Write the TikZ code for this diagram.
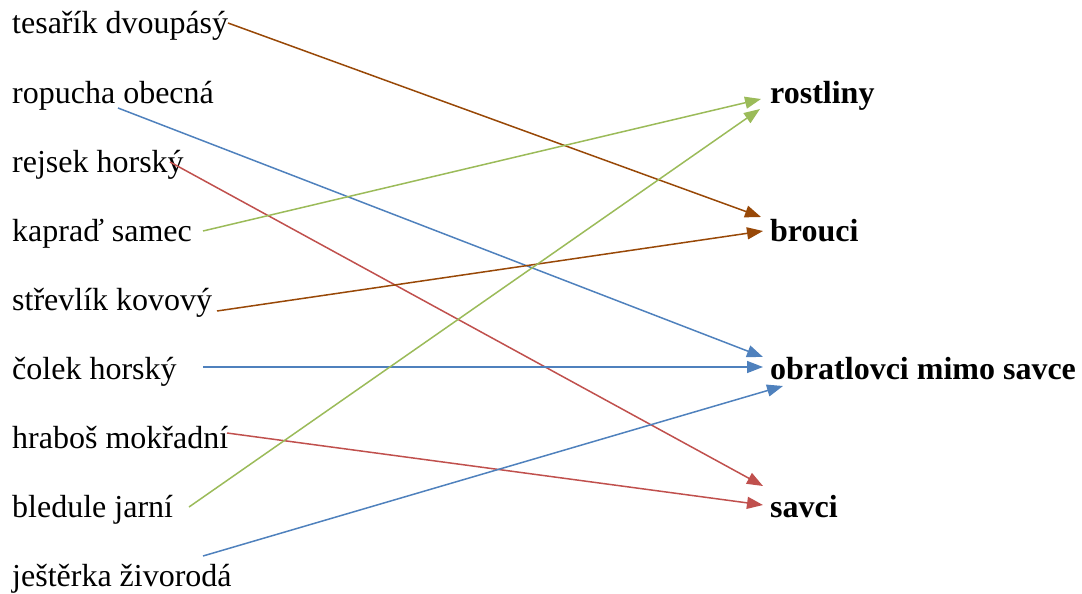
\documentclass[tikz,border=0pt]{standalone}
\usepackage{fontspec}
\setmainfont{Liberation Serif}
\usetikzlibrary{arrows.meta}

\definecolor{hneda}{HTML}{984807}
\definecolor{modra}{HTML}{4F81BD}
\definecolor{cervena}{HTML}{C0504D}
\definecolor{zelena}{HTML}{9BBB59}

\tikzset{
  druh/.style={anchor=base west,inner sep=0pt,font=\fontsize{32}{38}\selectfont},
  skupina/.style={druh,font=\fontsize{32}{38}\selectfont\bfseries},
  sipka/.style={line width=1.5pt,-{Triangle[length=16pt,width=12pt]}}
}

\begin{document}
\begin{tikzpicture}[x=1pt,y=-1pt]
  \useasboundingbox (0,0) rectangle (1082,594);
  % druhy
  \node[druh] (tes) at (12,34)  {tesařík dvoupásý};
  \node[druh] (rop) at (12,103) {ropucha obecná};
  \node[druh] (rej) at (12,172) {rejsek horský};
  \node[druh] (kap) at (12,241) {kapraď samec};
  \node[druh] (str) at (12,310) {střevlík kovový};
  \node[druh] (col) at (12,379) {čolek horský};
  \node[druh] (hra) at (12,448) {hraboš mokřadní};
  \node[druh] (ble) at (12,517) {bledule jarní};
  \node[druh] (jes) at (12,586) {ještěrka živorodá};
  % skupiny
  \node[skupina] (rost) at (770,103) {rostliny};
  \node[skupina] (brou) at (770,241) {brouci};
  \node[skupina] (obra) at (770,379) {obratlovci mimo savce};
  \node[skupina] (savc) at (770,517) {savci};
  % sipky
  \draw[sipka,hneda] ([xshift=216pt,yshift=11pt]tes.base west) -- ([xshift=-9pt,yshift=24pt]brou.base west);
  \draw[sipka,modra] ([xshift=106pt,yshift=-5pt]rop.base west) -- ([xshift=-7pt,yshift=22pt]obra.base west);
  \draw[sipka,cervena] ([xshift=158pt,yshift=10pt]rej.base west) -- ([xshift=-7pt,yshift=31pt]savc.base west);
  \draw[sipka,zelena] ([xshift=191pt,yshift=10pt]kap.base west) -- ([xshift=-9pt,yshift=4pt]rost.base west);
  \draw[sipka,hneda] ([xshift=205pt,yshift=-1pt]str.base west) -- ([xshift=-7pt,yshift=10pt]brou.base west);
  \draw[sipka,modra] ([xshift=191pt,yshift=12pt]col.base west) -- ([xshift=-7pt,yshift=12pt]obra.base west);
  \draw[sipka,cervena] ([xshift=215pt,yshift=15pt]hra.base west) -- ([xshift=-7pt,yshift=12pt]savc.base west);
  \draw[sipka,zelena] ([xshift=177pt,yshift=10pt]ble.base west) -- ([xshift=-10pt,yshift=-6pt]rost.base west);
  \draw[sipka,modra] ([xshift=191pt,yshift=30pt]jes.base west) -- ([xshift=13pt,yshift=-7pt]obra.base west);
\end{tikzpicture}
\end{document}
